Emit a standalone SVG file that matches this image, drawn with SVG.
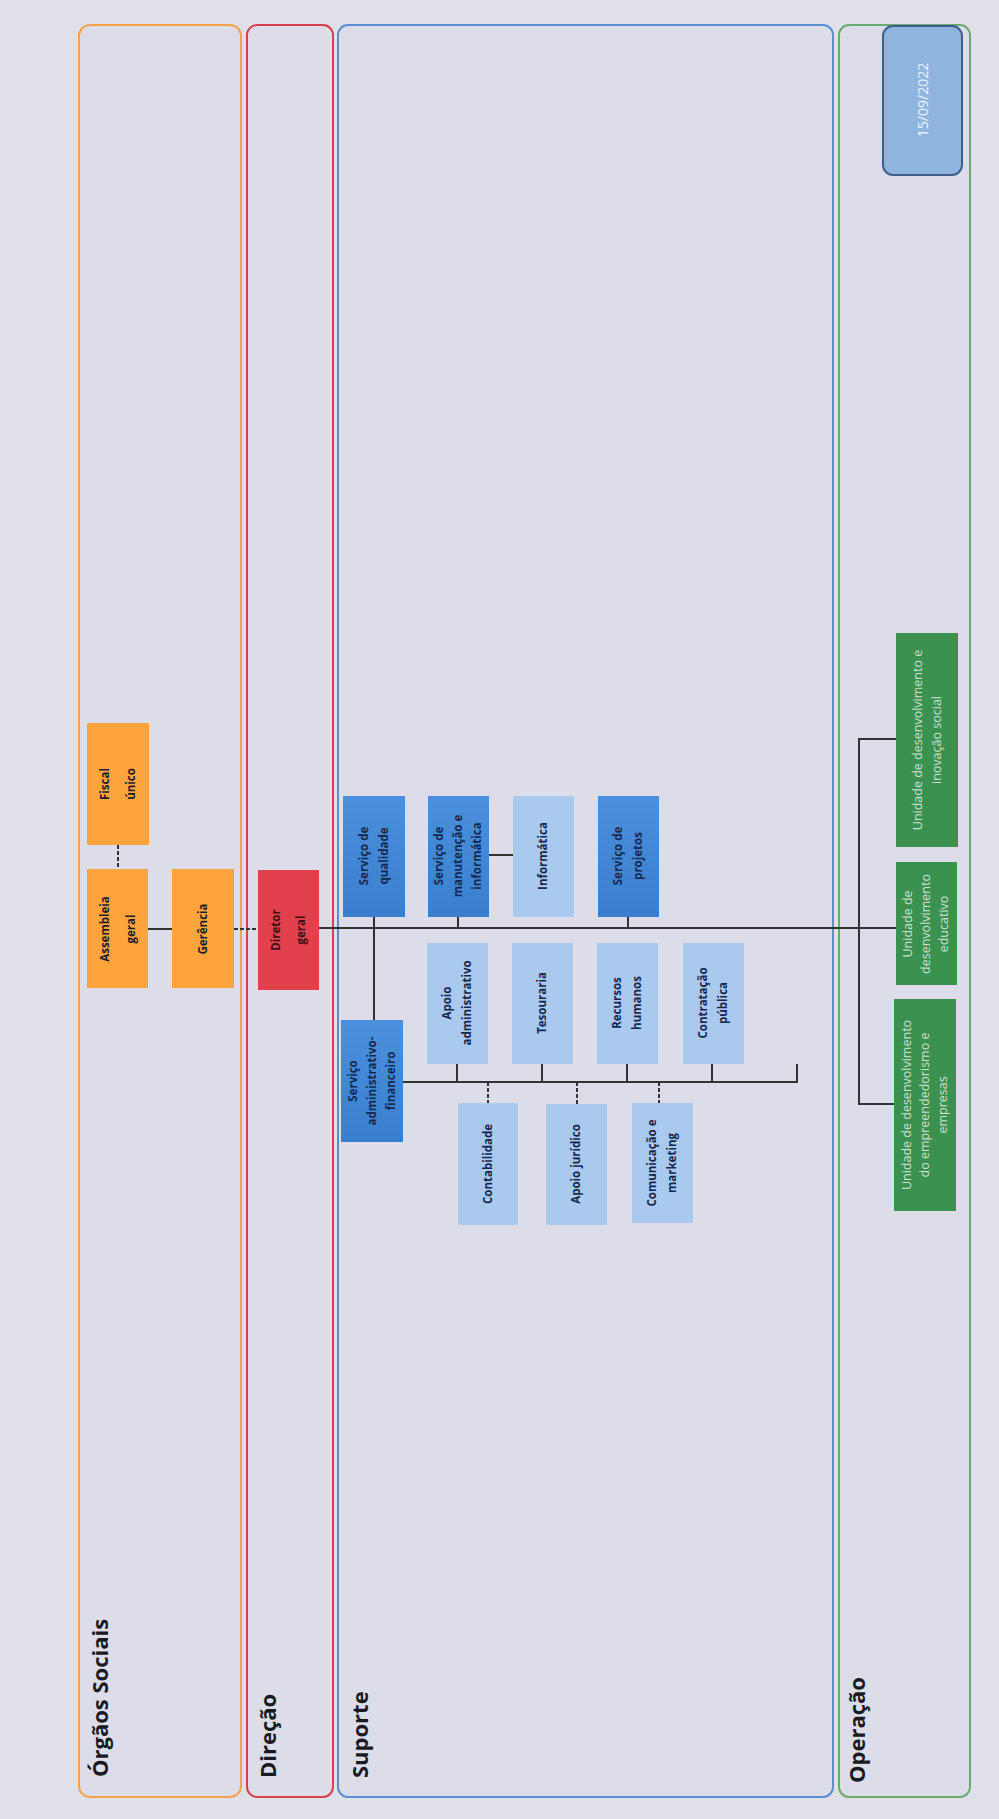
<svg xmlns="http://www.w3.org/2000/svg" width="999" height="1819" viewBox="0 0 999 1819">
<defs>
<style>
.lane{fill:#dcdde9;stroke-width:2}
.lbl{font-family:"Open Sans","Noto Sans",sans-serif;font-weight:700;font-size:22px;fill:#1a1a22}
.nt{font-family:"Open Sans","Noto Sans",sans-serif;font-weight:700;font-size:11.5px;text-anchor:middle}
.gt{font-family:"Open Sans","Noto Sans",sans-serif;font-weight:400;font-size:12.5px;text-anchor:middle;fill:#cfe0d0}
.org{fill:#fda53c}
.red{fill:#e2404c}
.dkb{fill:url(#gb)}
.ltb{fill:#a9c9ee}
.grn{fill:#3b9150}
.dark{fill:#1d1f2a}
.navy{fill:#16284f}
.con{fill:none;stroke:#333;stroke-width:2}
.dash{stroke-dasharray:4 2}
</style>
<linearGradient id="gb" x1="0" y1="0" x2="0" y2="1">
<stop offset="0" stop-color="#4a90dc"/>
<stop offset="1" stop-color="#3a7fcf"/>
</linearGradient>
</defs>
<rect width="999" height="1819" fill="#dfe0ea"/>

<g id="lanes">
<rect class="lane" x="79" y="25" width="162" height="1772" rx="11" stroke="#f5a24c"/>
<rect class="lane" x="247" y="25" width="86" height="1772" rx="10" stroke="#d8404c"/>
<rect class="lane" x="338" y="25" width="495" height="1772" rx="10" stroke="#5a90d2"/>
<rect class="lane" x="839" y="25" width="131" height="1772" rx="10" stroke="#6aab6e"/>
<text class="lbl" transform="translate(108,1777) rotate(-90)">Órgãos Sociais</text>
<text class="lbl" transform="translate(276,1778) rotate(-90)">Direção</text>
<text class="lbl" transform="translate(368,1778) rotate(-90)">Suporte</text>
<text class="lbl" transform="translate(865,1783) rotate(-90)">Operação</text>
</g>

<g id="date">
<rect x="883" y="26" width="79" height="149" rx="10" fill="#8fb5de" stroke="#3d5f8c" stroke-width="2"/>
<text transform="translate(928,100) rotate(-90)" font-family="Open Sans, Noto Sans, sans-serif" font-size="14" fill="#eef4fb" text-anchor="middle">15/09/2022</text>
</g>

<g id="connectors">
<path class="con dash" d="M118,845 V869"/>
<path class="con" d="M148,929 H172"/>
<path class="con dash" d="M234,929 H258"/>
<path class="con" d="M319,928 H896"/>
<path class="con" d="M374,917 V1020"/>
<path class="con" d="M458,917 V928"/>
<path class="con" d="M628,917 V928"/>
<path class="con" d="M489,855 H513"/>
<path class="con" d="M403,1082 H797 V1064"/>
<path class="con" d="M457,1064 V1082"/>
<path class="con" d="M542,1064 V1082"/>
<path class="con" d="M627,1064 V1082"/>
<path class="con" d="M712,1064 V1082"/>
<path class="con dash" d="M488,1082 V1103"/>
<path class="con dash" d="M577,1082 V1104"/>
<path class="con dash" d="M659,1082 V1103"/>
<path class="con" d="M896,739 H859 V1104 H894"/>
</g>

<g id="fiscal">
<rect class="org" x="87" y="723" width="62" height="122"/>
<text class="nt dark" transform="translate(118,784) rotate(-90)"><tspan x="0" y="-9">Fiscal</tspan><tspan x="0" y="17">único</tspan></text>
</g>
<g id="assembleia">
<rect class="org" x="87" y="869" width="61" height="119"/>
<text class="nt dark" transform="translate(118,929) rotate(-90)"><tspan x="0" y="-9">Assembleia</tspan><tspan x="0" y="17">geral</tspan></text>
</g>
<g id="gerencia">
<rect class="org" x="172" y="869" width="62" height="119"/>
<text class="nt dark" transform="translate(203,929) rotate(-90)"><tspan x="0" y="4">Gerência</tspan></text>
</g>
<g id="diretor">
<rect class="red" x="258" y="870" width="61" height="120"/>
<text class="nt" fill="#3a1212" transform="translate(289,930) rotate(-90)"><tspan x="0" y="-9">Diretor</tspan><tspan x="0" y="16">geral</tspan></text>
</g>

<g id="qualidade">
<rect class="dkb" x="343" y="796" width="62" height="121"/>
<text class="nt navy" transform="translate(374,856) rotate(-90)"><tspan x="0" y="-6">Serviço de</tspan><tspan x="0" y="14">qualidade</tspan></text>
</g>
<g id="manutencao">
<rect class="dkb" x="428" y="796" width="61" height="121"/>
<text class="nt navy" transform="translate(458,856) rotate(-90)"><tspan x="0" y="-15">Serviço de</tspan><tspan x="0" y="4">manutenção e</tspan><tspan x="0" y="23">informática</tspan></text>
</g>
<g id="informatica">
<rect class="ltb" x="513" y="796" width="61" height="121"/>
<text class="nt navy" transform="translate(543,856) rotate(-90)"><tspan x="0" y="4">Informática</tspan></text>
</g>
<g id="projetos">
<rect class="dkb" x="598" y="796" width="61" height="121"/>
<text class="nt navy" transform="translate(628,856) rotate(-90)"><tspan x="0" y="-6">Serviço de</tspan><tspan x="0" y="14">projetos</tspan></text>
</g>

<g id="admfin">
<rect class="dkb" x="341" y="1020" width="62" height="122"/>
<text class="nt navy" transform="translate(372,1081) rotate(-90)"><tspan x="0" y="-15">Serviço</tspan><tspan x="0" y="4">administrativo-</tspan><tspan x="0" y="23">financeiro</tspan></text>
</g>
<g id="apoioadm">
<rect class="ltb" x="427" y="943" width="61" height="121"/>
<text class="nt navy" transform="translate(457,1003) rotate(-90)"><tspan x="0" y="-6">Apoio</tspan><tspan x="0" y="14">administrativo</tspan></text>
</g>
<g id="tesouraria">
<rect class="ltb" x="512" y="943" width="61" height="121"/>
<text class="nt navy" transform="translate(542,1003) rotate(-90)"><tspan x="0" y="4">Tesouraria</tspan></text>
</g>
<g id="rh">
<rect class="ltb" x="597" y="943" width="61" height="121"/>
<text class="nt navy" transform="translate(627,1003) rotate(-90)"><tspan x="0" y="-6">Recursos</tspan><tspan x="0" y="14">humanos</tspan></text>
</g>
<g id="contratacao">
<rect class="ltb" x="683" y="943" width="61" height="121"/>
<text class="nt navy" transform="translate(713,1003) rotate(-90)"><tspan x="0" y="-6">Contratação</tspan><tspan x="0" y="14">pública</tspan></text>
</g>
<g id="contabilidade">
<rect class="ltb" x="458" y="1103" width="60" height="122"/>
<text class="nt navy" transform="translate(488,1164) rotate(-90)"><tspan x="0" y="4">Contabilidade</tspan></text>
</g>
<g id="juridico">
<rect class="ltb" x="546" y="1104" width="61" height="121"/>
<text class="nt navy" transform="translate(576,1164) rotate(-90)"><tspan x="0" y="4">Apoio jurídico</tspan></text>
</g>
<g id="comunicacao">
<rect class="ltb" x="632" y="1103" width="61" height="120"/>
<text class="nt navy" transform="translate(662,1163) rotate(-90)"><tspan x="0" y="-6">Comunicação e</tspan><tspan x="0" y="14">marketing</tspan></text>
</g>

<g id="inovacao">
<rect class="grn" x="896" y="633" width="62" height="214"/>
<text class="gt" transform="translate(927,740) rotate(-90)"><tspan x="0" y="-5">Unidade de desenvolvimento e</tspan><tspan x="0" y="14">inovação social</tspan></text>
</g>
<g id="educativo">
<rect class="grn" x="896" y="862" width="61" height="123"/>
<text class="gt" transform="translate(926,924) rotate(-90)"><tspan x="0" y="-14">Unidade de</tspan><tspan x="0" y="4">desenvolvimento</tspan><tspan x="0" y="22">educativo</tspan></text>
</g>
<g id="empreendedorismo">
<rect class="grn" x="894" y="999" width="62" height="212"/>
<text class="gt" transform="translate(925,1105) rotate(-90)"><tspan x="0" y="-14">Unidade de desenvolvimento</tspan><tspan x="0" y="4">do empreendedorismo e</tspan><tspan x="0" y="22">empresas</tspan></text>
</g>
</svg>
